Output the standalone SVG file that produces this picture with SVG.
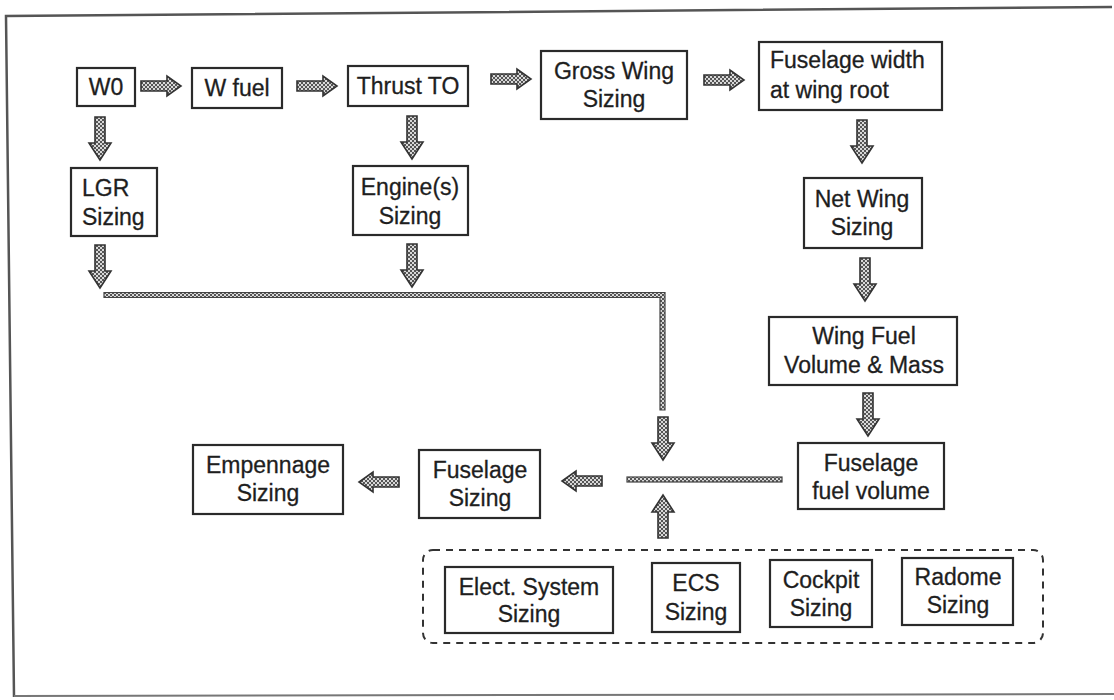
<svg xmlns="http://www.w3.org/2000/svg" width="1114" height="700" viewBox="0 0 1114 700">
<defs>
<pattern id="hatch" width="4" height="4" patternUnits="userSpaceOnUse">
<rect width="4" height="4" fill="#d8d8d8"/>
<rect x="0" y="0" width="2" height="2" fill="#555"/>
<rect x="2" y="2" width="2" height="2" fill="#555"/>
</pattern>
<path id="ar" d="M0,-5 L26,-5 L26,-10 L40,0 L26,10 L26,5 L0,5 Z"/>
<path id="ad" d="M-5,0 L5,0 L5,26 L11,26 L0,43 L-11,26 L-5,26 Z"/>
</defs>
<style>
.box{fill:#fff;stroke:#2a2a2a;stroke-width:2.2}
.t{font-family:"Liberation Sans",Arial,sans-serif;font-size:23px;fill:#1e1e1e;stroke:#1e1e1e;stroke-width:0.3;text-anchor:middle}
.l{text-anchor:start}
.arr{fill:url(#hatch);stroke:#333;stroke-width:1.6;stroke-linejoin:miter}
.band{fill:url(#hatch);stroke:#444;stroke-width:1.2}
</style>
<rect width="1114" height="700" fill="#fff"/>
<path d="M14,697 L6,16 L1112,7" fill="none" stroke="#555" stroke-width="2.5"/>
<path d="M14,696 L1114,694" fill="none" stroke="#777" stroke-width="2"/>

<g id="connectors">
<use href="#ar" x="141" y="86" class="arr"/>
<use href="#ar" x="297" y="86" class="arr"/>
<use href="#ar" x="491" y="79" class="arr"/>
<use href="#ar" x="704" y="80" class="arr"/>
<use href="#ad" x="100" y="117" class="arr"/>
<use href="#ad" x="412" y="116" class="arr"/>
<use href="#ad" x="862" y="120" class="arr"/>
<use href="#ad" x="100" y="245" class="arr"/>
<use href="#ad" x="412" y="244" class="arr"/>
<use href="#ad" x="865" y="258" class="arr"/>
<use href="#ad" x="868" y="393" class="arr"/>
<use href="#ad" x="663" y="417" class="arr"/>
<use href="#ad" x="663" y="538" transform="rotate(180 663 538)" class="arr"/>
<use href="#ar" x="602" y="481" transform="rotate(180 602 481)" class="arr"/>
<use href="#ar" x="399" y="482" transform="rotate(180 399 482)" class="arr"/>
<path d="M104,292.5 L665,292.5 L665,410 L660,410 L660,297.5 L104,297.5 Z" class="band"/>
<rect x="627" y="477" width="155" height="5" class="band"/>
</g>

<g id="n-w0"><rect x="77" y="68" width="58" height="38" class="box"/><text x="106" y="95" class="t">W0</text></g>
<g id="n-wfuel"><rect x="192" y="68" width="90" height="40" class="box"/><text x="237" y="96" class="t">W fuel</text></g>
<g id="n-thrust"><rect x="348" y="66" width="120" height="40" class="box"/><text x="408" y="94" class="t">Thrust TO</text></g>
<g id="n-gross"><rect x="541" y="51" width="146" height="68" class="box"/><text x="614" y="79" class="t">Gross Wing</text><text x="614" y="107" class="t">Sizing</text></g>
<g id="n-fuswidth"><rect x="759" y="42" width="183" height="68" class="box"/><text x="770" y="68" class="t l">Fuselage width</text><text x="770" y="98" class="t l">at wing root</text></g>
<g id="n-lgr"><rect x="71" y="168" width="86" height="68" class="box"/><text x="82" y="196" class="t l">LGR</text><text x="82" y="225" class="t l">Sizing</text></g>
<g id="n-engine"><rect x="353" y="166" width="115" height="69" class="box"/><text x="410" y="195" class="t">Engine(s)</text><text x="410" y="224" class="t">Sizing</text></g>
<g id="n-netwing"><rect x="804" y="178" width="118" height="70" class="box"/><text x="862" y="207" class="t">Net Wing</text><text x="862" y="235" class="t">Sizing</text></g>
<g id="n-wingfuel"><rect x="769" y="317" width="188" height="68" class="box"/><text x="864" y="344" class="t">Wing Fuel</text><text x="864" y="373" class="t">Volume &amp; Mass</text></g>
<g id="n-fusfuel"><rect x="798" y="443" width="146" height="66" class="box"/><text x="871" y="471" class="t">Fuselage</text><text x="871" y="499" class="t">fuel volume</text></g>
<g id="n-fussizing"><rect x="419" y="450" width="121" height="68" class="box"/><text x="480" y="478" class="t">Fuselage</text><text x="480" y="506" class="t">Sizing</text></g>
<g id="n-empennage"><rect x="193" y="445" width="150" height="69" class="box"/><text x="268" y="473" class="t">Empennage</text><text x="268" y="501" class="t">Sizing</text></g>
<g id="n-group"><rect x="423" y="550" width="620" height="93" rx="10" fill="none" stroke="#333" stroke-width="2" stroke-dasharray="7,6"/></g>
<g id="n-elect"><rect x="445" y="567" width="168" height="66" class="box"/><text x="529" y="595" class="t">Elect. System</text><text x="529" y="622" class="t">Sizing</text></g>
<g id="n-ecs"><rect x="652" y="563" width="88" height="69" class="box"/><text x="696" y="591" class="t">ECS</text><text x="696" y="620" class="t">Sizing</text></g>
<g id="n-cockpit"><rect x="770" y="560" width="102" height="67" class="box"/><text x="821" y="588" class="t">Cockpit</text><text x="821" y="616" class="t">Sizing</text></g>
<g id="n-radome"><rect x="902" y="558" width="111" height="67" class="box"/><text x="958" y="585" class="t">Radome</text><text x="958" y="613" class="t">Sizing</text></g>
</svg>
